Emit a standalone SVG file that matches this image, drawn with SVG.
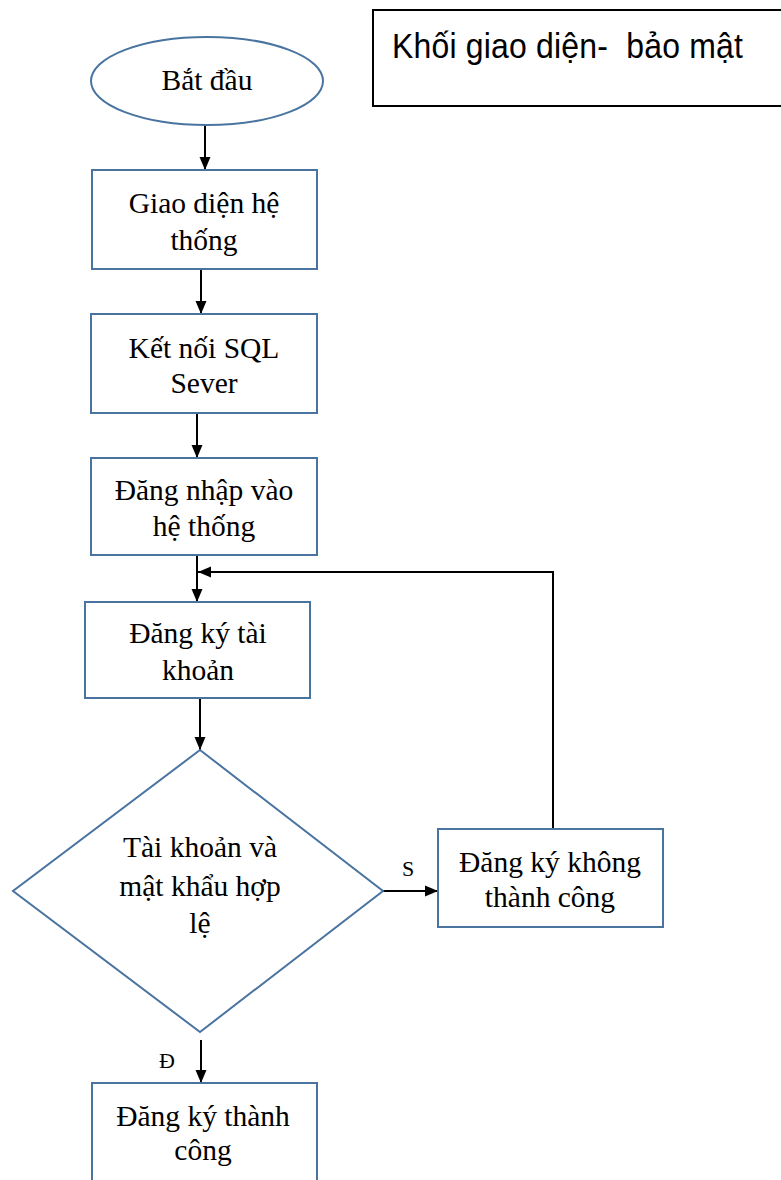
<svg xmlns="http://www.w3.org/2000/svg" width="781" height="1180" viewBox="0 0 781 1180">
<style>
.shape{fill:#fff;stroke:#4a74a0;stroke-width:2}
.t{font-family:"Liberation Serif","Times New Roman",serif;font-size:29.5px;fill:#000;text-anchor:middle}
.lbl{font-family:"Liberation Serif","Times New Roman",serif;font-size:22px;fill:#000}
.edge{fill:none;stroke:#000;stroke-width:2}
</style>
<defs>
<marker id="ah" markerUnits="userSpaceOnUse" markerWidth="14" markerHeight="14" viewBox="0 0 14 14" refX="13" refY="7" orient="auto">
<path d="M0,1.5 L13,7 L0,12.5 Z" fill="#000"/>
</marker>
</defs>
<rect width="781" height="1180" fill="#fff"/>
<g id="title">
<rect x="373" y="10" width="430" height="96" fill="#fff" stroke="#000" stroke-width="2"/>
<text transform="translate(392,58) scale(1,1.12)" font-family="Liberation Sans, Arial, sans-serif" font-size="32" fill="#000" style="white-space:pre" xml:space="preserve" textLength="351">Khối giao diện-  bảo mật</text>
</g>
<g id="connectors">
<line class="edge" x1="205" y1="125" x2="205" y2="170" marker-end="url(#ah)"/>
<line class="edge" x1="201" y1="269" x2="201" y2="314" marker-end="url(#ah)"/>
<line class="edge" x1="197" y1="413" x2="197" y2="458" marker-end="url(#ah)"/>
<line class="edge" x1="197" y1="555" x2="197" y2="602" marker-end="url(#ah)"/>
<line class="edge" x1="200" y1="698" x2="200" y2="750" marker-end="url(#ah)"/>
<line class="edge" x1="383" y1="891" x2="438" y2="891" marker-end="url(#ah)"/>
<polyline class="edge" points="553,829 553,572 198,572" marker-end="url(#ah)"/>
<line class="edge" x1="201" y1="1040" x2="201" y2="1083" marker-end="url(#ah)"/>
<text class="lbl" x="402" y="876">S</text>
<text class="lbl" x="159" y="1068">Đ</text>
</g>
<g id="start">
<ellipse class="shape" cx="207" cy="81" rx="116" ry="44"/>
<text class="t" x="207" y="90">Bắt đầu</text>
</g>
<g id="giao-dien">
<rect class="shape" x="92" y="170" width="225" height="99"/>
<text class="t" x="204" y="213">Giao diện hệ</text>
<text class="t" x="204" y="250">thống</text>
</g>
<g id="ket-noi">
<rect class="shape" x="91" y="314" width="226" height="99"/>
<text class="t" x="204" y="358">Kết nối SQL</text>
<text class="t" x="204" y="393">Sever</text>
</g>
<g id="dang-nhap">
<rect class="shape" x="91" y="458" width="226" height="97"/>
<text class="t" x="204" y="500">Đăng nhập vào</text>
<text class="t" x="204" y="536">hệ thống</text>
</g>
<g id="dang-ky">
<rect class="shape" x="85" y="602" width="225" height="96"/>
<text class="t" x="198" y="643">Đăng ký tài</text>
<text class="t" x="198" y="680">khoản</text>
</g>
<g id="kiem-tra">
<polygon class="shape" points="200,750 383,891 200,1032 13,891"/>
<text class="t" x="200" y="857">Tài khoản và</text>
<text class="t" x="200" y="896">mật khẩu hợp</text>
<text class="t" x="200" y="933">lệ</text>
</g>
<g id="khong-thanh-cong">
<rect class="shape" x="438" y="829" width="225" height="98"/>
<text class="t" x="550" y="872">Đăng ký không</text>
<text class="t" x="550" y="907">thành công</text>
</g>
<g id="thanh-cong">
<rect class="shape" x="92" y="1083" width="225" height="120"/>
<text class="t" x="203" y="1126">Đăng ký thành</text>
<text class="t" x="203" y="1160">công</text>
</g>
</svg>
